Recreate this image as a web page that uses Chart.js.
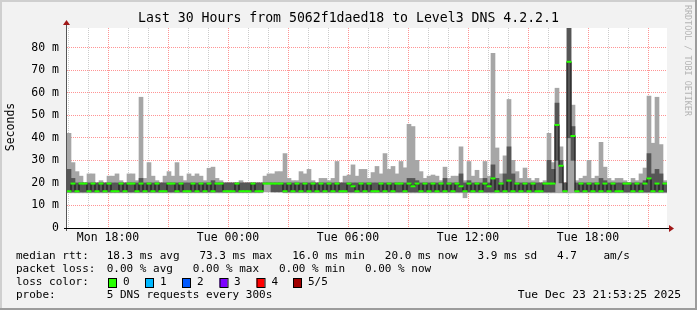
<!DOCTYPE html>
<html>
<head>
<meta charset="utf-8">
<script src="https://cdn.jsdelivr.net/npm/chart.js@4/dist/chart.umd.min.js"></script>
<style>
  html, body { margin: 0; padding: 0; background: #f2f2f2; }
  canvas { display: block; }
</style>
</head>
<body>
<canvas id="smoke" width="697" height="310"></canvas>
<script>
// one sample every 12 minutes, 150 samples = 30 hours (values in ms)
const STEP_MIN = 12;

// outer smoke (lightest gray): highest ping per sample
const maxVals = [
  42, 29, 25, 23, 20, 24, 24, 20, 21, 20,
  23, 23, 24, 21, 20, 24, 24, 21, 58, 22,
  29, 23, 21, 20, 23, 25, 23, 29, 23, 21,
  24, 23, 24, 23, 21, 26.5, 27, 22, 21, 20,
  20, 20, 20, 21, 20, 20, 20, 20, 20, 23,
  24, 24, 25, 25, 33, 22, 21, 21, 25, 24,
  26, 21, 20, 22, 22, 21, 22, 29.5, 20, 23,
  23.5, 28, 23, 26, 26, 22, 24.6, 27.3, 24, 33,
  26, 27.3, 24, 29.5, 26.7, 46, 45, 30, 25, 22,
  23, 23.5, 23, 21, 27, 22, 23, 23, 36, 21,
  29.5, 23, 25.6, 22, 29.5, 23, 77.5, 35.5, 24, 32,
  57, 30, 25, 22, 26.6, 22, 21, 22, 20, 21,
  42, 29, 62, 36, 20, 88.7, 54.5, 21, 22, 23,
  30, 22, 23, 38, 27, 22, 21, 22, 22, 21,
  20, 22, 21, 24, 26.6, 58.5, 37.6, 58, 37, 21
];

// lowest ping per sample
const minVals = [
  15.6, 15.6, 15.6, 15.6, 15.6, 15.6, 15.6, 15.6, 15.6, 15.6,
  15.6, 15.6, 15.6, 15.6, 15.6, 15.6, 15.6, 15.6, 15.6, 15.6,
  15.6, 15.6, 15.6, 15.6, 15.6, 15.6, 15.6, 15.6, 15.6, 15.6,
  15.6, 15.6, 15.6, 15.6, 15.6, 15.6, 15.6, 15.6, 15.6, 15.6,
  15.6, 15.6, 15.6, 15.6, 15.6, 15.6, 15.6, 15.6, 15.6, 16,
  16, 16, 16, 16, 15.6, 15.6, 15.6, 15.6, 15.6, 15.6,
  15.6, 15.6, 15.6, 15.6, 15.6, 15.6, 15.6, 15.6, 15.6, 15.6,
  15.6, 15.6, 15.6, 15.6, 15.6, 15.6, 15.6, 15.6, 15.6, 15.6,
  15.6, 15.6, 15.6, 15.6, 15.6, 15.6, 15.6, 15.6, 15.6, 15.6,
  15.6, 15.6, 15.6, 15.6, 15.6, 15.6, 15.6, 15.6, 15.6, 13.4,
  15.6, 15.6, 15.6, 15.6, 15.6, 15.6, 15.6, 15.6, 15.6, 15.6,
  15.6, 15.6, 15.6, 15.6, 15.6, 15.6, 15.6, 15.6, 15.6, 15.6,
  15.6, 15.6, 15.6, 15.6, 15.6, 15.6, 15.6, 15.6, 15.6, 15.6,
  15.6, 15.6, 15.6, 15.6, 15.6, 15.6, 15.6, 15.6, 15.6, 15.6,
  15.6, 15.6, 15.6, 15.6, 15.6, 15.6, 15.6, 15.6, 15.6, 15.6
];

// inner smoke (dark gray): 2nd and 4th ping
const innerHi = [
  26, 22, 20, 20, 20, 20, 20, 20, 20, 20,
  20, 20, 20, 20, 20, 20, 20, 20, 22, 20,
  20, 20, 20, 20, 20, 20, 20, 20, 20, 20,
  20, 20, 20, 20, 20, 20, 21, 20, 20, 20,
  20, 20, 20, 20, 20, 20, 20, 20, 20, 20,
  20, 20, 20, 20, 20, 20, 20, 20, 20, 20,
  20, 20, 20, 20, 20, 20, 20, 20, 20, 20,
  20, 20, 20, 20, 20, 20, 20, 20, 20, 20,
  20, 20, 20, 20, 20, 22, 22, 21, 20, 20,
  20, 20, 20, 20, 22, 20, 20, 20, 24, 20,
  21, 20, 20, 20, 22, 20, 28, 22, 20, 24,
  36, 24, 20, 20, 20, 20, 20, 20, 20, 20,
  30, 26, 55.4, 30, 20, 88.7, 45, 20, 20, 20,
  20, 20, 20, 22, 21, 20, 20, 20, 20, 20,
  20, 20, 20, 20, 21, 33, 24, 26, 24, 20
];

const innerLo = [
  16, 16, 16, 16, 16, 16, 16, 16, 16, 16,
  16, 16, 16, 16, 16, 16, 16, 16, 16, 16,
  16, 16, 16, 16, 16, 16, 16, 16, 16, 16,
  16, 16, 16, 16, 16, 16, 16, 16, 16, 16,
  16, 16, 16, 16, 16, 16, 16, 16, 16, 20,
  20, 16, 16, 16, 16, 16, 16, 16, 16, 16,
  16, 16, 16, 16, 16, 16, 16, 16, 16, 16,
  16, 16, 16, 16, 16, 16, 16, 16, 16, 16,
  16, 16, 16, 16, 16, 16, 16, 16, 16, 16,
  16, 16, 16, 16, 16, 16, 16, 16, 16, 16,
  16, 16, 16, 16, 16, 16, 16, 16, 16, 16,
  16, 16, 16, 16, 16, 16, 16, 16, 16, 16,
  16, 16, 30, 20, 16, 40, 30, 16, 16, 16,
  16, 16, 16, 16, 16, 16, 16, 16, 16, 16,
  16, 16, 16, 16, 16, 16, 16, 16, 16, 16
];

// median rtt per sample
const medianVals = [
  16.3, 19.7, 16.3, 19.7, 19.7, 16.3, 19.7, 16.3, 19.7, 16.3,
  19.7, 16.3, 16.3, 19.7, 16.3, 19.7, 19.7, 16.3, 19.7, 16.3,
  19.7, 16.3, 19.7, 16.3, 16.3, 19.7, 19.7, 16.3, 19.7, 16.3,
  16.3, 19.7, 16.3, 19.7, 16.3, 19.7, 16.3, 19.7, 19.7, 16.3,
  16.3, 16.3, 19.7, 16.3, 16.3, 16.3, 19.7, 16.3, 16.3, 19.7,
  19.7, 19.7, 19.7, 19.7, 16.3, 19.7, 16.3, 19.7, 16.3, 19.7,
  16.3, 19.7, 16.3, 19.7, 16.3, 19.7, 16.3, 19.7, 16.3, 16.3,
  19.7, 18.5, 16.3, 19.7, 16.3, 19.7, 16.3, 16.3, 19.7, 16.3,
  19.7, 16.3, 19.7, 19.7, 16.3, 19.7, 18.5, 19.7, 16.3, 19.7,
  16.3, 19.7, 16.3, 19.7, 16.3, 19.7, 16.3, 19.7, 18.5, 16.3,
  19.7, 16.3, 19.7, 16.3, 19.7, 18.5, 22, 16.3, 19.7, 16.3,
  21, 16.3, 19.7, 16.3, 19.7, 16.3, 19.7, 16.3, 16.3, 19.7,
  19.7, 19.7, 45.7, 27.6, 16.3, 73.7, 40.8, 16.3, 19.7, 16.3,
  19.7, 16.3, 19.7, 16.3, 19.7, 16.3, 19.7, 16.3, 16.3, 19.7,
  19.7, 16.3, 19.7, 16.3, 19.7, 22, 16.3, 19.7, 16.3, 19.7
];

// x axis: minutes since left edge (Mon 15:57), labelled every 6 hours
const xTickLabels = ['Mon 18:00', 'Tue 00:00', 'Tue 06:00', 'Tue 12:00', 'Tue 18:00'];
const FIRST_LABEL_MIN = 123;
const Y_MAX = 88.7;

const FONT = '"DejaVu Sans Mono", "Liberation Mono", monospace';
const RED_GRID = 'rgba(255, 0, 0, 0.42)';
const GRAY_GRID = 'rgba(0, 0, 0, 0.2)';

const hourTicks = [];
for (let m = FIRST_LABEL_MIN - 120; m < 1800; m += 60) hourTicks.push(m);
const yTicks = [];
for (let v = 0; v < Y_MAX; v += 5) yTicks.push(v);

const xOf = i => i * STEP_MIN + STEP_MIN / 2;

// background, frame and the text rrdtool puts around the graph
const frame = {
  id: 'frame',
  beforeDraw(chart) {
    const ctx = chart.ctx, a = chart.chartArea;
    ctx.save();
    ctx.fillStyle = '#f2f2f2';
    ctx.fillRect(0, 0, 697, 310);
    ctx.fillStyle = '#cfcfcf';
    ctx.fillRect(0, 0, 697, 2);
    ctx.fillRect(0, 0, 2, 310);
    ctx.fillStyle = '#9c9c9c';
    ctx.fillRect(0, 308, 697, 2);
    ctx.fillRect(695, 0, 2, 310);
    ctx.fillStyle = '#ffffff';
    ctx.fillRect(a.left, a.top, a.right - a.left, a.bottom - a.top);
    ctx.restore();
  },
  afterDraw(chart) {
    const ctx = chart.ctx, a = chart.chartArea;
    ctx.save();

    // axes with arrows
    ctx.strokeStyle = '#555';
    ctx.lineWidth = 1;
    ctx.beginPath();
    ctx.moveTo(a.left - 0.5, a.bottom + 3);
    ctx.lineTo(a.left - 0.5, a.top - 4);
    ctx.stroke();
    ctx.strokeStyle = '#000';
    ctx.beginPath();
    ctx.moveTo(a.left - 3, a.bottom + 0.5);
    ctx.lineTo(a.right + 3, a.bottom + 0.5);
    ctx.stroke();
    ctx.fillStyle = '#a01818';
    ctx.beginPath();
    ctx.moveTo(a.left - 4, a.top - 3);
    ctx.lineTo(a.left + 3, a.top - 3);
    ctx.lineTo(a.left - 0.5, a.top - 8);
    ctx.closePath();
    ctx.fill();
    ctx.beginPath();
    ctx.moveTo(a.right + 2, a.bottom - 3);
    ctx.lineTo(a.right + 2, a.bottom + 4);
    ctx.lineTo(a.right + 7, a.bottom + 0.5);
    ctx.closePath();
    ctx.fill();

    ctx.fillStyle = '#000';
    ctx.textBaseline = 'middle';

    // title
    ctx.font = '13.2px ' + FONT;
    ctx.textAlign = 'center';
    ctx.fillText('Last 30 Hours from 5062f1daed18 to Level3 DNS 4.2.2.1', 348.5, 19);

    // y axis title
    ctx.font = '11.5px ' + FONT;
    ctx.save();
    ctx.translate(11, 127);
    ctx.rotate(-Math.PI / 2);
    ctx.fillText('Seconds', 0, 0);
    ctx.restore();

    // watermark
    ctx.save();
    ctx.fillStyle = '#b4b4b4';
    ctx.font = '8.4px ' + FONT;
    ctx.textAlign = 'left';
    ctx.translate(687, 5);
    ctx.rotate(Math.PI / 2);
    ctx.fillText('RRDTOOL / TOBI OETIKER', 0, 0);
    ctx.restore();

    // legend block: label column + value column
    ctx.font = '11px ' + FONT;
    ctx.textAlign = 'left';
    const rows = [
      [256.5, 'median rtt:', '18.3 ms avg   73.3 ms max   16.0 ms min   20.0 ms now   3.9 ms sd   4.7    am/s'],
      [269.5, 'packet loss:', '0.00 % avg   0.00 % max   0.00 % min   0.00 % now'],
      [282.5, 'loss color:', ''],
      [295.5, 'probe:', '5 DNS requests every 300s']
    ];
    rows.forEach(([y, label, vals]) => {
      ctx.fillText(label, 16, y);
      ctx.fillText(vals, 106.7, y);
    });
    [[123, '0'], [160, '1'], [197, '2'], [234, '3'], [271.6, '4'], [308, '5/5']]
      .forEach(([x, t]) => ctx.fillText(t, x, 282.5));
    ctx.textAlign = 'right';
    ctx.font = '11.3px ' + FONT;
    ctx.fillText('Tue Dec 23 21:53:25 2025', 681, 295.5);

    const lossColors = [[108, '#26ff00'], [145, '#00b8ff'], [182, '#0059ff'], [219.5, '#7e00ff'], [256.5, '#ff0000'], [293, '#a00000']];
    lossColors.forEach(([x, c]) => {
      ctx.fillStyle = c;
      ctx.fillRect(x, 278, 8, 9);
      ctx.strokeStyle = '#000';
      ctx.strokeRect(x + 0.5, 278.5, 8, 9);
    });
    ctx.restore();
  }
};

new Chart(document.getElementById('smoke'), {
  type: 'bar',
  data: {
    datasets: [
      {
        type: 'line',
        label: 'median',
        data: medianVals.map((v, i) => ({ x: xOf(i), y: v })),
        showLine: false,
        pointStyle: 'line',
        pointRadius: 2.5,
        pointBorderWidth: 2,
        pointBorderColor: '#26ff00',
        borderColor: '#26ff00'
      },
      {
        type: 'line',
        label: 'median step',
        data: medianVals.map((v, i) => ({ x: xOf(i), y: v })),
        stepped: 'middle',
        borderColor: '#111111',
        borderWidth: 1,
        pointRadius: 0
      },
      {
        label: 'inner',
        data: innerHi.map((v, i) => ({ x: xOf(i), y: [innerLo[i], v] })),
        backgroundColor: '#565656',
        borderWidth: 0
      },
      {
        label: 'outer',
        data: maxVals.map((v, i) => ({ x: xOf(i), y: [minVals[i], v] })),
        backgroundColor: '#a6a6a6',
        borderWidth: 0
      }
    ]
  },
  options: {
    responsive: false,
    animation: false,
    devicePixelRatio: 1,
    events: [],
    grouped: false,
    barPercentage: 1,
    categoryPercentage: 1,
    layout: { padding: { left: 0, top: 28, right: 30, bottom: 62 } },
    plugins: { legend: { display: false }, tooltip: { enabled: false }, title: { display: false } },
    scales: {
      x: {
        type: 'linear',
        min: 0,
        max: 1800,
        offset: false,
        z: 1,
        afterFit: s => { s.height = 20; },
        afterBuildTicks: s => { s.ticks = hourTicks.map(v => ({ value: v })); },
        grid: {
          offset: false,
          drawTicks: false,
          color: c => ((c.tick.value - FIRST_LABEL_MIN) % 180 === 0 ? RED_GRID : GRAY_GRID)
        },
        border: { display: false, dash: [1, 1] },
        ticks: {
          autoSkip: false,
          maxRotation: 0,
          padding: 3,
          color: '#000',
          font: { family: FONT, size: 11.5 },
          callback: v => {
            const k = (v - FIRST_LABEL_MIN) / 360;
            return Number.isInteger(k) && k >= 0 ? xTickLabels[k] : '';
          }
        }
      },
      y: {
        min: 0,
        max: Y_MAX,
        z: 1,
        afterFit: s => { s.width = 67; },
        afterBuildTicks: s => { s.ticks = yTicks.map(v => ({ value: v })); },
        grid: {
          drawTicks: false,
          color: c => (c.tick.value === 0 ? 'rgba(0,0,0,0)' : (c.tick.value % 10 === 0 ? RED_GRID : GRAY_GRID))
        },
        border: { display: false, dash: [1, 1] },
        ticks: {
          padding: 8,
          color: '#000',
          font: { family: FONT, size: 11.5 },
          callback: v => (v === 0 ? '0' : (v % 10 === 0 ? v + ' m' : ''))
        }
      }
    }
  },
  plugins: [frame]
});
</script>
</body>
</html>
